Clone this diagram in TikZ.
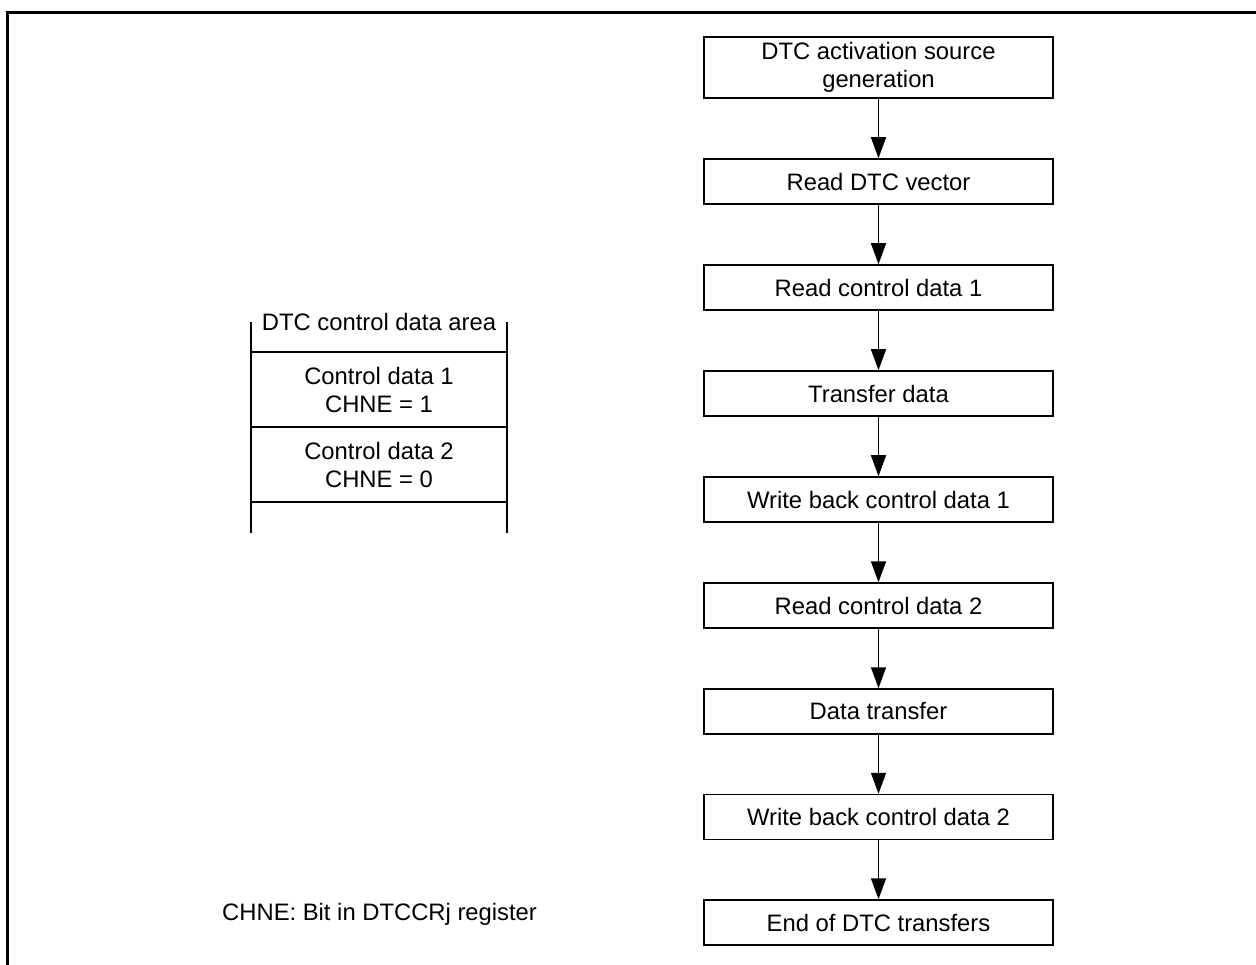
\documentclass[tikz,border=0pt]{standalone}
\usepackage{fontspec}
\setmainfont{Liberation Sans}
\usetikzlibrary{arrows.meta}
\begin{document}
\begin{tikzpicture}[x=1pt,y=-1pt,
  txt/.style={font=\fontsize{23.8}{28.5}\selectfont, align=center, inner sep=0pt},
  flowbox/.style={txt, draw, line width=1.5pt, minimum width=349pt, minimum height=45pt},
  flowarrow/.style={line width=1.5pt, -{Triangle[length=21pt,width=15pt]}},
  frameline/.style={line width=3pt},
  arealine/.style={line width=1.5pt}]
\useasboundingbox (0,0) rectangle (1256,965);
% frame
\coordinate (fr1) at (1256,12.5);
\coordinate (fr2) at (7.5,12.5);
\coordinate (fr3) at (7.5,965);
\draw[frameline] (fr1) -- (fr2) -- (fr3);
% flow boxes
\node[flowbox, minimum height=61pt] (b1) at (878.5,67.5) {DTC activation source\\generation};
\node[flowbox] (b2) at (878.5,181.5) {Read DTC vector};
\node[flowbox] (b3) at (878.5,287.5) {Read control data 1};
\node[flowbox] (b4) at (878.5,393.5) {Transfer data};
\node[flowbox] (b5) at (878.5,499.5) {Write back control data 1};
\node[flowbox] (b6) at (878.5,605.5) {Read control data 2};
\node[flowbox] (b7) at (878.5,711.5) {Data transfer};
\node[flowbox] (b8) at (878.5,817) {Write back control data 2};
\node[flowbox] (b9) at (878.5,922.5) {End of DTC transfers};
\foreach \a/\b in {b1/b2,b2/b3,b3/b4,b4/b5,b5/b6,b6/b7,b7/b8,b8/b9}
  \draw[flowarrow] (\a.south) -- (\b.north);
% control data area
\coordinate (al1) at (251,322);
\coordinate (al2) at (251,533);
\coordinate (ar1) at (507,322);
\coordinate (ar2) at (507,533);
\coordinate (h1l) at (251,352); \coordinate (h1r) at (507,352);
\coordinate (h2l) at (251,427); \coordinate (h2r) at (507,427);
\coordinate (h3l) at (251,502); \coordinate (h3r) at (507,502);
\draw[arealine] (al1) -- (al2);
\draw[arealine] (ar1) -- (ar2);
\draw[arealine] (h1l) -- (h1r);
\draw[arealine] (h2l) -- (h2r);
\draw[arealine] (h3l) -- (h3r);
\node[txt] (areatitle) at (379,322) {DTC control data area};
\node[txt] (cd1) at (379,390) {Control data 1\\CHNE = 1};
\node[txt] (cd2) at (379,465) {Control data 2\\CHNE = 0};
% footnote
\node[txt, anchor=west] (note) at (222,914) {CHNE: Bit in DTCCRj register};
\end{tikzpicture}
\end{document}
